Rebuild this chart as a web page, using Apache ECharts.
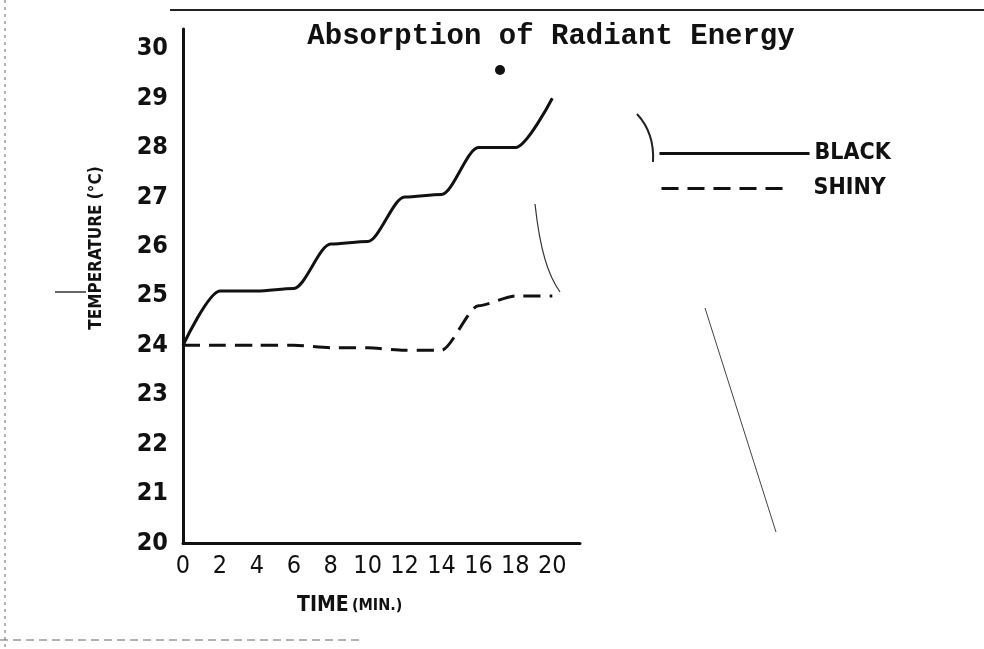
<!DOCTYPE html>
<html>
<head>
<meta charset="utf-8">
<script src="https://cdn.jsdelivr.net/npm/echarts@6/dist/echarts.min.js"></script>
<style>
  html, body { margin: 0; padding: 0; background: #fff; }
  #main { width: 984px; height: 649px; }
</style>
</head>
<body>
<div id="main"></div>
<script>
// time (min) and temperature readings
var times = [0, 2, 4, 6, 8, 10, 12, 14, 16, 18, 20];
var black = [24, 25.1, 25.1, 25.15, 26.05, 26.1, 27, 27.05, 28, 28, 29];
var shiny = [24, 24, 24, 24, 23.95, 23.95, 23.9, 23.9, 24.8, 25, 25];
var seriesNames = ['BLACK', 'SHINY'];

var cond = '"DejaVu Sans Condensed", "DejaVu Sans", sans-serif';
var ink = '#111';

function pairs(vals) {
  return times.map(function (t, i) { return [t, vals[i]]; });
}

var chart = echarts.init(document.getElementById('main'));

var legendBase = {
  orient: 'vertical',
  itemHeight: 14,
  itemStyle: { opacity: 0 },
  lineStyle: { width: 3 },
  textStyle: { fontFamily: cond, fontSize: 23, fontWeight: 'bold', color: ink }
};

var option = {
  backgroundColor: '#fff',
  animation: false,
  title: {
    text: 'Absorption of Radiant Energy',
    left: 546,
    top: 17,
    textAlign: 'center',
    textStyle: {
      fontFamily: '"Liberation Mono", "DejaVu Sans Mono", monospace',
      fontSize: 29,
      fontWeight: 'bold',
      color: ink
    }
  },
  legend: [
    echarts.util.merge({ left: 653, top: 137, itemWidth: 150, data: [seriesNames[0]] }, legendBase),
    echarts.util.merge({
      left: 655, top: 172, itemWidth: 127, data: [seriesNames[1]],
      textStyle: { fontFamily: cond, fontSize: 23, fontWeight: 'bold', color: ink, padding: [0, 0, 0, 20] }
    }, legendBase)
  ],
  grid: { left: 183, right: 404, top: 29, bottom: 106 },
  xAxis: {
    type: 'value',
    min: 0,
    max: 21.5,
    interval: 2,
    axisLine: { lineStyle: { color: ink, width: 3 } },
    axisTick: { show: false },
    splitLine: { show: false },
    axisLabel: {
      showMaxLabel: false,
      margin: 11,
      fontFamily: cond,
      fontSize: 25,
      color: ink
    }
  },
  yAxis: {
    type: 'value',
    min: 20,
    max: 30.4,
    interval: 1,
    axisLine: { show: true, lineStyle: { color: ink, width: 3 } },
    axisTick: { show: false },
    splitLine: { show: false },
    axisLabel: {
      showMaxLabel: false,
      margin: 15,
      fontFamily: cond,
      fontSize: 25,
      fontWeight: 'bold',
      color: ink
    }
  },
  graphic: [
    {
      type: 'text',
      x: 97, y: 248,
      rotation: Math.PI / 2,
      style: {
        text: 'TEMPERATURE (\u00B0C)',
        fontFamily: cond,
        fontSize: 17,
        fontWeight: 'bold',
        fill: ink,
        align: 'center',
        verticalAlign: 'middle'
      }
    },
    {
      type: 'text',
      x: 297, y: 606,
      style: {
        text: '{a|TIME} {b|(MIN.)}',
        rich: {
          a: { fontFamily: cond, fontSize: 21, fontWeight: 'bold', fill: ink },
          b: { fontFamily: cond, fontSize: 16, fontWeight: 'bold', fill: ink }
        },
        verticalAlign: 'middle'
      }
    },
    // scan border and stray strokes
    {
      type: 'line',
      shape: { x1: 170, y1: 10, x2: 984, y2: 10 },
      style: { stroke: '#222', lineWidth: 2 }
    },
    {
      type: 'line',
      shape: { x1: 5, y1: 0, x2: 5, y2: 649 },
      style: { stroke: '#666', lineWidth: 1, lineDash: [3, 4] }
    },
    {
      type: 'line',
      shape: { x1: 0, y1: 640, x2: 360, y2: 640 },
      style: { stroke: '#666', lineWidth: 1, lineDash: [8, 5] }
    },
    {
      type: 'line',
      shape: { x1: 55, y1: 292, x2: 86, y2: 292 },
      style: { stroke: '#333', lineWidth: 1.5 }
    },
    {
      type: 'bezierCurve',
      shape: { x1: 637, y1: 114, x2: 653, y2: 162, cpx1: 650, cpy1: 128, cpx2: 654, cpy2: 145 },
      style: { stroke: '#222', lineWidth: 2, fill: null }
    },
    {
      type: 'bezierCurve',
      shape: { x1: 535, y1: 204, x2: 560, y2: 292, cpx1: 540, cpy1: 250, cpx2: 548, cpy2: 275 },
      style: { stroke: '#333', lineWidth: 1.2, fill: null }
    },
    {
      type: 'line',
      shape: { x1: 705, y1: 308, x2: 776, y2: 532 },
      style: { stroke: '#444', lineWidth: 1 }
    },
    {
      type: 'circle',
      shape: { cx: 500, cy: 70, r: 5 },
      style: { fill: '#111' }
    }
  ],
  series: [
    {
      name: seriesNames[0],
      type: 'line',
      data: pairs(black),
      smooth: 0.3,
      smoothMonotone: 'x',
      symbol: 'none',
      lineStyle: { color: ink, width: 3 },
      itemStyle: { color: ink }
    },
    {
      name: seriesNames[1],
      type: 'line',
      data: pairs(shiny),
      smooth: 0.25,
      smoothMonotone: 'x',
      symbol: 'none',
      lineStyle: { color: ink, width: 3, type: [17, 9] },
      itemStyle: { color: ink }
    }
  ]
};

chart.setOption(option);
</script>
</body>
</html>
